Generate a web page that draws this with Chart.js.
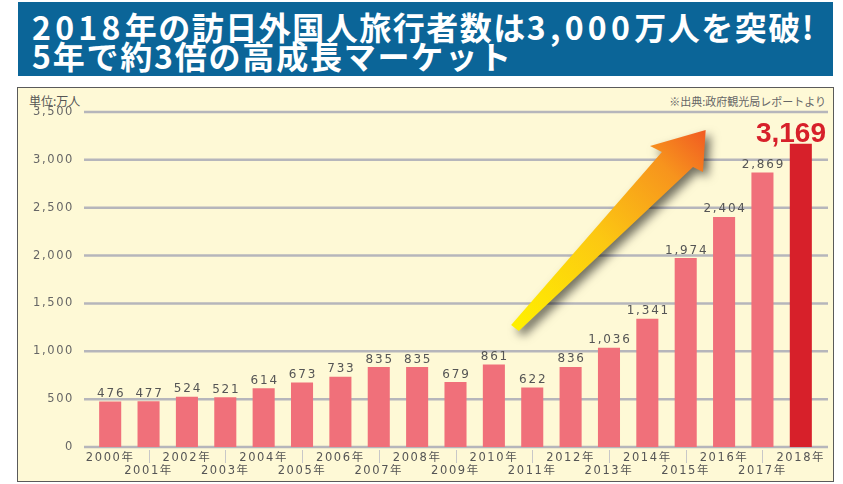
<!DOCTYPE html>
<html>
<head>
<meta charset="utf-8">
<script src="https://cdn.jsdelivr.net/npm/chart.js@4/dist/chart.umd.min.js"></script>
<style>
  body { margin: 0; background: #fff; width: 843px; height: 484px; overflow: hidden; position: relative; }
  #banner {
    position: absolute; left: 18px; top: 2px; width: 815px; height: 74px;
    background: #0b6598; color: #fff;
    font-family: "Noto Sans CJK JP", sans-serif; font-weight: 700;
    font-size: 32px; line-height: 29.5px; letter-spacing: 1.5px;
    padding: 9.5px 0 0 14px; box-sizing: border-box; white-space: nowrap;
  }
  #banner .w { letter-spacing: 4.3px; }
  #banner .l2 { letter-spacing: 1.8px; }
  #panel {
    position: absolute; left: 17px; top: 87px; width: 815px; height: 393px;
    background: #fef9d6; border: 1.5px solid #5a5a5a;
  }
  #unit { position: absolute; left: 29px; top: 92px; font: 12px "Noto Sans CJK JP", sans-serif; color: #555; }
  #source { position: absolute; right: 17px; top: 93px; font: 11px "Noto Sans CJK JP", sans-serif; color: #666; }
  #chart { position: absolute; left: 18px; top: 88px; }
</style>
</head>
<body>
<div id="banner"><span class="w">2018</span>年の訪日外国人旅行者数は<span class="w">3,000</span>万人を突破<span class="w">!</span><br><span class="l2">5年で約3倍の高成長マーケット</span></div>
<div id="panel"></div>
<div id="unit">単位:万人</div>
<div id="source">※出典:政府観光局レポートより</div>
<canvas id="chart" width="815" height="392"></canvas>
<script>
const years = ['2000年', '2001年', '2002年', '2003年', '2004年', '2005年', '2006年', '2007年', '2008年', '2009年',
               '2010年', '2011年', '2012年', '2013年', '2014年', '2015年', '2016年', '2017年', '2018年'];
const visitors = [476, 477, 524, 521, 614, 673, 733, 835, 835, 679, 861, 622, 836, 1036, 1341, 1974, 2404, 2869, 3169];
const yTicks = [0, 500, 1000, 1500, 2000, 2500, 3000, 3500];

const pink = '#f0707a';
const red = '#d7202a';
const lastIdx = visitors.length - 1;

// grid lines a bit wider than the plot, plus the little separators under odd years
const gridPlugin = {
    id: 'grid',
    beforeDraw(chart) {
        chart.ctx.letterSpacing = '1.6px';
    },
    beforeDatasetsDraw(chart) {
        const { ctx, chartArea, scales } = chart;
        ctx.save();
        ctx.strokeStyle = '#b6b6bb';
        ctx.lineWidth = 2.5;
        yTicks.forEach(v => {
            const y = scales.y.getPixelForValue(v);
            ctx.beginPath();
            ctx.moveTo(chartArea.left - 7, y);
            ctx.lineTo(chartArea.right + 8, y);
            ctx.stroke();
        });
        ctx.strokeStyle = '#c8c8c8';
        ctx.lineWidth = 1;
        years.forEach((y, i) => {
            if (i % 2 === 1) {
                const x = Math.round(scales.x.getPixelForValue(i)) + 0.5;
                ctx.beginPath();
                ctx.moveTo(x, chartArea.bottom + 3);
                ctx.lineTo(x, chartArea.bottom + 16);
                ctx.stroke();
            }
        });
        ctx.restore();
    }
};

// the big gradient arrow, placed in data coordinates [index, value]
const arrowPlugin = {
    id: 'arrow',
    afterDatasetsDraw(chart) {
        const { ctx, scales } = chart;
        const pts = [[10.45, 1275], [14.38, 3083], [14.07, 3145], [15.52, 3312],
                     [15.45, 2874], [15.19, 2926], [10.65, 1212]];
        const p = pts.map(([i, v]) => [scales.x.getPixelForValue(i), scales.y.getPixelForValue(v)]);
        ctx.save();
        const g = ctx.createLinearGradient(p[0][0], p[0][1], p[3][0], p[3][1]);
        g.addColorStop(0, '#fff000');
        g.addColorStop(0.45, '#fcc812');
        g.addColorStop(0.8, '#f7941d');
        g.addColorStop(1, '#f15a22');
        ctx.fillStyle = g;
        ctx.shadowColor = 'rgba(0,0,0,0.55)';
        ctx.shadowBlur = 10;
        ctx.shadowOffsetX = 5;
        ctx.shadowOffsetY = 5;
        ctx.beginPath();
        p.forEach(([x, y], k) => k ? ctx.lineTo(x, y) : ctx.moveTo(x, y));
        ctx.closePath();
        ctx.fill();
        ctx.restore();
    }
};

// value labels above the bars
const labelPlugin = {
    id: 'labels',
    afterDatasetsDraw(chart) {
        const { ctx, chartArea } = chart;
        const bars = chart.getDatasetMeta(0).data;
        ctx.save();
        ctx.textBaseline = 'alphabetic';
        bars.forEach((bar, i) => {
            const txt = visitors[i].toLocaleString('en-US');
            if (i === lastIdx) {
                ctx.letterSpacing = '0px';
                ctx.font = 'bold 28px "Liberation Sans", Arial, sans-serif';
                ctx.fillStyle = red;
                ctx.textAlign = 'right';
                ctx.fillText(txt, chartArea.right + 6, bar.y - 2);
            } else {
                ctx.letterSpacing = '1.8px';
                ctx.font = '12px "DejaVu Sans", sans-serif';
                ctx.fillStyle = '#555';
                ctx.textAlign = 'center';
                ctx.fillText(txt, bar.x + 1, bar.y - 4.5);
            }
        });
        ctx.restore();
    }
};

new Chart(document.getElementById('chart'), {
    type: 'bar',
    data: {
        labels: years,
        datasets: [{
            data: visitors,
            backgroundColor: visitors.map((v, i) => i === lastIdx ? red : pink),
            borderWidth: 0,
            barPercentage: 0.575,
            categoryPercentage: 1
        }]
    },
    options: {
        responsive: false,
        animation: false,
        layout: { padding: { left: 0, right: 13, top: 24, bottom: 0 } },
        plugins: { legend: { display: false }, tooltip: { enabled: false } },
        scales: {
            x: {
                grid: { display: false, drawTicks: false },
                border: { display: false },
                afterFit(s) { s.height = 33; },
                ticks: {
                    autoSkip: false,
                    maxRotation: 0,
                    padding: 4,
                    color: '#555',
                    font: { family: '"DejaVu Sans", "Noto Sans CJK JP", sans-serif', size: 11.5, lineHeight: 1.15 },
                    callback: (v, i) => i % 2 === 0 ? [years[i], ''] : ['', years[i]]
                }
            },
            y: {
                min: 0,
                max: 3500,
                grid: { display: false, drawTicks: false },
                border: { display: false },
                afterFit(s) { s.width = 73; },
                afterBuildTicks(s) { s.ticks = yTicks.map(v => ({ value: v })); },
                ticks: {
                    padding: 17,
                    color: '#666',
                    font: { family: '"DejaVu Sans", sans-serif', size: 11.5 },
                    callback: v => v.toLocaleString('en-US')
                }
            }
        }
    },
    plugins: [gridPlugin, arrowPlugin, labelPlugin]
});
</script>
</body>
</html>
